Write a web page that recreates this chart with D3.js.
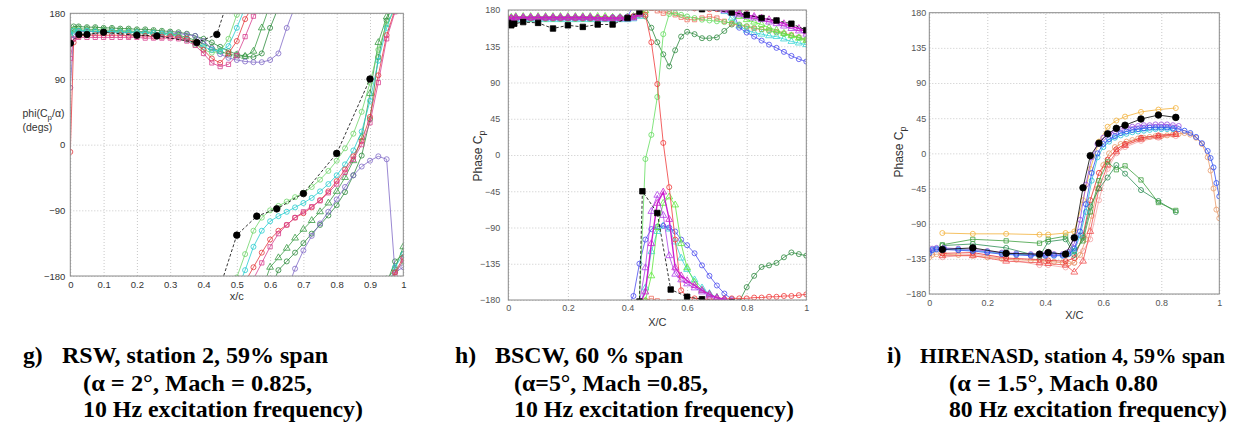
<!DOCTYPE html>
<html>
<head>
<meta charset="utf-8">
<script src="https://cdn.jsdelivr.net/npm/d3@7"></script>
<style>
  body { margin: 0; background: #fff; }
  svg { display: block; }
  .caption { font-family: "Times New Roman", "Liberation Serif", Times, serif; font-weight: bold; font-size: 23.7px; fill: #000; }
  .axis-title { font-family: "Liberation Sans", Arial, sans-serif; fill: #333; }
</style>
</head>
<body>
<svg id="chart" width="1251" height="423"></svg>
<script>
// ---- g) RSW, station 2 ----
const G_X = [0, 0.01, 0.025, 0.05, 0.075, 0.1, 0.125, 0.15, 0.175, 0.2, 0.225, 0.25, 0.275, 0.3, 0.325, 0.35, 0.375, 0.4, 0.425, 0.45, 0.475, 0.5, 0.525, 0.55, 0.575, 0.6, 0.625, 0.65, 0.675, 0.7, 0.725, 0.75, 0.775, 0.8, 0.825, 0.85, 0.875, 0.9, 0.925, 0.95, 0.975, 1.0];
const G_DKGREEN = [155, 162, 162, 161, 161, 160, 160, 159, 159, 158, 158, 157, 156, 155, 154, 152, 149, 145, 140, 134, 128, 124, 121, 120, 125, 160, -172, -160, -148, -135, -122, -110, -97, -83, -65, -42, -15, 35, 120, 170, -160, -150];
const G_GREEN_TRI = [150, 158, 159, 158, 158, 157, 157, 156, 156, 155, 155, 154, 153, 152, 150, 147, 143, 138, 133, 128, 124, 122, 121, 128, 160, -168, -155, -142, -128, -116, -104, -92, -80, -64, -45, -22, 10, 70, 140, 175, -170, -140];
const G_LTGREEN = [152, 157, 157, 156, 156, 156, 155, 155, 155, 154, 154, 153, 153, 152, 149, 144, 137, 130, 126, 128, 145, 178, -150, -118, -100, -90, -84, -78, -72, -66, -58, -48, -36, -22, -5, 15, 45, 85, 130, 165, -175, -160];
const G_CYAN = [150, 156, 156, 156, 155, 155, 155, 154, 154, 154, 153, 153, 152, 151, 148, 144, 139, 134, 130, 128, 135, 160, -172, -140, -118, -105, -98, -92, -86, -80, -73, -64, -54, -42, -27, -8, 18, 60, 115, 160, -168, -150];
const G_RED = [-10, 140, 149, 150, 150, 150, 150, 150, 149, 149, 149, 148, 148, 148, 147, 145, 140, 130, 118, 112, 125, 142, 172, -168, -148, -130, -118, -110, -100, -94, -86, -76, -64, -50, -34, -16, 5, 38, 95, 150, -175, -155];
const G_MAGENTA = [118, 145, 147, 147, 147, 147, 147, 147, 147, 147, 146, 146, 146, 146, 145, 142, 136, 125, 112, 107, 110, 122, 148, 176, -162, -140, -122, -110, -100, -92, -85, -77, -66, -54, -38, -20, 0, 30, 85, 145, -178, -158];
const G_PURPLE = [78, 150, 155, 155, 155, 155, 155, 154, 154, 154, 154, 153, 153, 153, 152, 151, 149, 142, 132, 124, 119, 116, 114, 113, 113, 116, 125, 160, -170, -145, -125, -108, -92, -75, -58, -42, -30, -22, -16, -20, -175, -168];
const G_EXP_X = [0, 0.026, 0.05, 0.1, 0.2, 0.26, 0.38, 0.44, 0.5, 0.56, 0.62, 0.7, 0.8, 0.9];
const G_EXP = [139, 151, 151, 154, 150, 149, 140, 151, -124, -98, -88, -67, -12, 90];

// ---- h) BSCW ----
const H_X = [0, 0.01, 0.025, 0.05, 0.075, 0.1, 0.125, 0.15, 0.175, 0.2, 0.225, 0.25, 0.275, 0.3, 0.325, 0.35, 0.375, 0.4, 0.42, 0.44, 0.46, 0.48, 0.5, 0.52, 0.54, 0.56, 0.58, 0.6, 0.625, 0.65, 0.675, 0.7, 0.725, 0.75, 0.775, 0.8, 0.825, 0.85, 0.875, 0.9, 0.925, 0.95, 0.975, 1.0];
const H_MAGENTA = [168, 170, 171, 171, 171, 171, 171, 171, 171, 171, 171, 171, 171, 170, 170, 170, 170, 170, 171, 174, -170, -110, -60, -46, -80, -140, -150, -156, -162, -168, -173, -177, -179, 178, 176, 174, 172, 170, 168, 166, 163, 160, 157, 153];
const H_VIOLET = [166, 169, 170, 170, 170, 170, 170, 170, 170, 170, 170, 170, 170, 170, 169, 169, 169, 169, 170, 176, -140, -70, -50, -75, -125, -148, -155, -160, -165, -170, -175, -178, 179, 176, 174, 172, 170, 168, 165, 163, 160, 157, 154, 150];
const H_BLUE = [167, 169, 170, 170, 170, 170, 170, 170, 170, 170, 170, 170, 170, 170, 170, 171, 171, 172, -175, -135, -105, -92, -89, -88, -90, -95, -105, -112, -122, -137, -150, -162, -172, -179, 158, 152, 147, 142, 137, 133, 128, 123, 119, 116];
const H_LTGREEN = [168, 169, 169, 169, 169, 169, 169, 169, 169, 169, 169, 169, 169, 169, 169, 169, 169, 170, 172, 178, -5, 25, 72, 150, 175, 176, 174, 172, 170, 168, 167, 166, 165, 164, 162, 160, 158, 156, 154, 152, 150, 148, 146, 144];
const H_RED = [169, 170, 170, 170, 170, 170, 170, 170, 170, 170, 170, 170, 170, 170, 170, 170, 170, 171, 172, 176, 174, 140, 88, 15, -40, -105, -168, -176, -178, -179, -179, -179, -179, -178, -178, -178, -177, -177, -176, -176, -175, -175, -174, -173];
const H_SALMON = [168, 169, 169, 169, 169, 169, 169, 169, 169, 169, 169, 169, 169, 169, 169, 169, 170, 170, 172, 176, 179, -178, 179, 176, 178, 174, 171, 168, 168, 170, 172, 170, 166, 163, 161, 159, 157, 156, 155, 153, 151, 149, 146, 143];
const H_DKGREEN = [166, 168, 169, 169, 169, 169, 169, 169, 169, 169, 169, 169, 169, 169, 169, 169, 169, 170, 171, 174, 172, 158, 140, 125, 110, 130, 147, 153, 150, 145, 145, 146, 154, 162, 178, -164, -150, -139, -137, -134, -127, -121, -123, -125];
const H_CYAN = [167, 168, 168, 168, 168, 168, 168, 168, 168, 168, 168, 168, 168, 168, 168, 168, 168, 168, 169, 172, -165, -120, -95, -88, -92, -108, -128, -142, -155, -165, -172, -177, 178, 170, 160, 155, 152, 150, 148, 147, 144, 141, 139, 137];
const H_LIME = [169, 171, 172, 172, 172, 172, 172, 172, 172, 172, 172, 172, 172, 172, 172, 171, 171, 171, 172, 175, 179, -150, -90, -60, -52, -62, -110, -140, -158, -168, -173, -177, -179, 177, 172, 168, 165, 162, 158, 155, 151, 148, 145, 142];
const H_EXP_X = [0, 0.01, 0.02, 0.05, 0.1, 0.15, 0.2, 0.25, 0.3, 0.35, 0.4, 0.44, 0.45, 0.5, 0.545, 0.6, 0.65, 0.75, 0.8, 0.85, 0.9, 0.95, 1.0];
const H_EXP = [164, 161, 163, 165, 164, 157, 161, 159, 162, 162, 170, 178, -45, -72, -167, -176, -179, 177, 174, 170, 167, 163, 155];

// ---- i) HIRENASD, station 4 ----
const I_TAP_X = [0.045, 0.15, 0.265, 0.38, 0.41, 0.47, 0.5, 0.53, 0.555, 0.585, 0.615, 0.645, 0.675, 0.73, 0.79, 0.85];
const I_EXP = [-123, -121, -128, -129, -127, -129, -108, -44, -3, 13, 25, 32, 36, 44, 49, 46];
const I_ORANGE = [-102, -103, -103, -104, -104, -102, -100, -60, -20, 15, 34, 42, 47, 53, 56, 58];
const I_GREEN_SQ = [-117, -110, -112, -115, -110, -106, -125, -112, -75, -35, -11, -21, -16, -34, -63, -73];
const I_GREEN_CIRC = [-118, -116, -121, -132, -113, -110, -130, -108, -68, -45, -31, -15, -26, -47, -61, -75];
const I_RED = [-128, -127, -134, -136, -137, -138, -134, -105, -60, -25, -8, 5, 12, 20, 23, 25];
const I_RED_TRI = [-131, -131, -138, -140, -141, -143, -152, -138, -100, -45, -15, 2, 10, 18, 21, 24];
const I_PINK = [-133, -129, -135, -143, -143, -146, -140, -125, -110, -60, -20, 0, 8, 16, 20, 22];
const I_X = [0, 0.01, 0.025, 0.05, 0.1, 0.15, 0.2, 0.25, 0.3, 0.35, 0.4, 0.43, 0.46, 0.48, 0.5, 0.52, 0.54, 0.56, 0.58, 0.6, 0.62, 0.64, 0.66, 0.68, 0.7, 0.72, 0.74, 0.76, 0.78, 0.8, 0.82, 0.84, 0.86, 0.88, 0.9, 0.92, 0.94, 0.96, 0.97, 0.98, 0.99, 1.0];
const I_BLUE = [-128, -124, -123, -123, -124, -125, -127, -129, -130, -131, -131, -131, -131, -129, -122, -100, -65, -25, 0, 12, 18, 22, 26, 28, 30, 31, 32, 33, 33, 33, 33, 32, 31, 29, 26, 21, 13, 3, -6, -18, -38, -55];
const I_PURPLE = [-125, -122, -121, -121, -122, -123, -125, -127, -128, -129, -129, -129, -129, -126, -115, -85, -40, -5, 12, 20, 25, 28, 31, 33, 34, 35, 36, 36, 37, 37, 37, 36, 35, null, null, null, null, null, null, null, null, null];
const I_CYAN = [-126, -123, -122, -122, -123, -124, -126, -128, -129, -130, -130, -130, -130, -128, -125, -105, -75, -35, -5, 8, 15, 20, 23, 25, 27, 28, 29, 30, 31, 31, 31, 31, null, null, null, null, null, null, null, null, null, null];
const I_TAN = [-133, -130, -129, -129, -130, -131, -133, -135, -136, -137, -138, -139, -140, -141, -140, -130, -110, -80, -45, -15, 0, 8, 12, 15, 17, 19, 20, 21, 22, 22, 23, 24, 25, 26, 24, 20, 12, -5, -22, -45, -72, -83];

const PHASE_TICKS_90 = [-180, -90, 0, 90, 180];
const PHASE_TICKS_45 = [-180, -135, -90, -45, 0, 45, 90, 135, 180];
const XC_TICKS_01 = [0, 0.1, 0.2, 0.3, 0.4, 0.5, 0.6, 0.7, 0.8, 0.9, 1];
const XC_TICKS_02 = [0, 0.2, 0.4, 0.6, 0.8, 1];

const svg = d3.select('#chart');

// phase data is stored wrapped in [-180, 180]; unwrap so a line that
// leaves the top comes back in at the bottom, as in the original plots
function unwrap(values) {
  const out = [];
  let prev = null;
  let off = 0;
  for (const v of values) {
    if (v == null) { out.push(null); continue; }
    let u = v + off;
    if (prev != null) {
      while (u - prev > 180) { off -= 360; u -= 360; }
      while (u - prev < -180) { off += 360; u += 360; }
    }
    out.push(u);
    prev = u;
  }
  return out;
}

const SYMBOLS = {
  circle: [d3.symbolCircle, 20],
  triangle: [d3.symbolTriangle, 20],
  square: [d3.symbolSquare, 18],
  dot: [d3.symbolCircle, 34],
  block: [d3.symbolSquare, 30]
};

const fmtX = (d) => (d === 0 || d === 1 ? String(d) : d3.format('.1f')(d));

function drawPanel(p) {
  const x = d3.scaleLinear([0, 1], [p.left, p.right]);
  const y = d3.scaleLinear([-180, 180], [p.bottom, p.top]);
  const w = p.right - p.left;
  const h = p.bottom - p.top;
  const g = svg.append('g');

  // dotted grid
  g.append('g')
    .attr('transform', `translate(0,${p.bottom})`)
    .call(d3.axisBottom(x).tickValues(p.xTicks).tickSize(-h).tickFormat(''))
    .call((a) => a.select('.domain').remove())
    .selectAll('line').attr('stroke', '#c8c8c8').attr('stroke-dasharray', '1,2');
  g.append('g')
    .attr('transform', `translate(${p.left},0)`)
    .call(d3.axisLeft(y).tickValues(p.yTicks).tickSize(-w).tickFormat(''))
    .call((a) => a.select('.domain').remove())
    .selectAll('line').attr('stroke', '#c8c8c8').attr('stroke-dasharray', '1,2');

  // tick labels
  const xAxis = g.append('g')
    .attr('transform', `translate(0,${p.bottom})`)
    .call(d3.axisBottom(x).tickValues(p.xTicks).tickSize(0).tickPadding(p.xPad).tickFormat(fmtX));
  const yAxis = g.append('g')
    .attr('transform', `translate(${p.left},0)`)
    .call(d3.axisLeft(y).tickValues(p.yTicks).tickSize(0).tickPadding(p.yPad));
  [xAxis, yAxis].forEach((a) => {
    a.select('.domain').remove();
    a.selectAll('text')
      .attr('font-family', '"Liberation Sans", Arial, sans-serif')
      .attr('font-size', p.tickSize)
      .attr('fill', p.tickColor);
  });

  const clipId = `clip-${p.id}`;
  svg.append('clipPath').attr('id', clipId)
    .append('rect').attr('x', p.left).attr('y', p.top).attr('width', w).attr('height', h);
  const plot = g.append('g').attr('clip-path', `url(#${clipId})`);

  p.series.forEach((s) => {
    const u = unwrap(s.v);
    const pts = s.x.map((xv, i) => [xv, u[i]]).filter((d) => d[1] != null);
    const [type, size] = SYMBOLS[s.marker];
    const sym = d3.symbol(type, size);
    const filled = s.marker === 'dot' || s.marker === 'block';
    [-720, -360, 0, 360].forEach((shift) => {
      if (!pts.some((d) => Math.abs(d[1] + shift) <= 200)) return;
      const line = d3.line().x((d) => x(d[0])).y((d) => y(d[1] + shift));
      plot.append('path')
        .datum(pts)
        .attr('d', line)
        .attr('fill', 'none')
        .attr('stroke', s.color)
        .attr('stroke-width', s.width || 0.8)
        .attr('stroke-dasharray', s.dash || null);
      plot.selectAll(null)
        .data(pts.filter((d) => Math.abs(d[1] + shift) <= 190))
        .join('path')
        .attr('transform', (d) => `translate(${x(d[0])},${y(d[1] + shift)})`)
        .attr('d', sym)
        .attr('fill', filled ? s.color : 'none')
        .attr('stroke', s.color)
        .attr('stroke-width', 0.8);
    });
  });

  // frame
  g.append('rect')
    .attr('x', p.left).attr('y', p.top).attr('width', w).attr('height', h)
    .attr('fill', 'none').attr('stroke', '#8a8a8a').attr('stroke-width', 1);

  return { x, y };
}

// g) RSW
drawPanel({
  id: 'g', left: 70.3, right: 403.3, top: 13.3, bottom: 276,
  xTicks: XC_TICKS_01, yTicks: PHASE_TICKS_90, xPad: 5, yPad: 5, tickSize: 9.5, tickColor: '#333',
  series: [
    { x: G_X, v: G_DKGREEN, color: '#2c8a3c', marker: 'circle' },
    { x: G_X, v: G_GREEN_TRI, color: '#3a9c45', marker: 'triangle' },
    { x: G_X, v: G_PURPLE, color: '#8069c6', marker: 'circle' },
    { x: G_X, v: G_LTGREEN, color: '#6fd66a', marker: 'circle' },
    { x: G_X, v: G_CYAN, color: '#27cdcf', marker: 'circle' },
    { x: G_X, v: G_RED, color: '#e4373c', marker: 'circle' },
    { x: G_X, v: G_MAGENTA, color: '#d8408f', marker: 'square' },
    { x: G_EXP_X, v: G_EXP, color: '#000', marker: 'dot', dash: '3,2' }
  ]
});

// h) BSCW
drawPanel({
  id: 'h', left: 508.3, right: 806.3, top: 10, bottom: 300,
  xTicks: XC_TICKS_02, yTicks: PHASE_TICKS_45, xPad: 5, yPad: 8, tickSize: 9, tickColor: '#555',
  series: [
    { x: H_X, v: H_DKGREEN, color: '#2f8a40', marker: 'circle' },
    { x: H_X, v: H_SALMON, color: '#ef6f5f', marker: 'square' },
    { x: H_X, v: H_CYAN, color: '#3ad6d6', marker: 'triangle' },
    { x: H_X, v: H_BLUE, color: '#4b4bef', marker: 'circle' },
    { x: H_X, v: H_LTGREEN, color: '#63dd5e', marker: 'circle' },
    { x: H_X, v: H_LIME, color: '#5ee83c', marker: 'triangle' },
    { x: H_X, v: H_RED, color: '#f03a3a', marker: 'circle' },
    { x: H_X, v: H_VIOLET, color: '#b040e8', marker: 'triangle' },
    { x: H_X, v: H_MAGENTA, color: '#cc1fcc', marker: 'triangle', width: 1.4 },
    { x: H_EXP_X, v: H_EXP, color: '#000', marker: 'block', dash: '3,2' }
  ]
});

// i) HIRENASD
drawPanel({
  id: 'i', left: 929.3, right: 1219.3, top: 12.7, bottom: 294,
  xTicks: XC_TICKS_02, yTicks: PHASE_TICKS_45, xPad: 6, yPad: 3, tickSize: 9, tickColor: '#555',
  series: [
    { x: I_TAP_X, v: I_PINK, color: '#f3a3a3', marker: 'circle' },
    { x: I_X, v: I_TAN, color: '#e89a6a', marker: 'circle' },
    { x: I_TAP_X, v: I_RED_TRI, color: '#f05050', marker: 'triangle' },
    { x: I_TAP_X, v: I_RED, color: '#e8302f', marker: 'circle' },
    { x: I_TAP_X, v: I_GREEN_CIRC, color: '#2e8f55', marker: 'circle' },
    { x: I_TAP_X, v: I_GREEN_SQ, color: '#3f9f3f', marker: 'square' },
    { x: I_TAP_X, v: I_ORANGE, color: '#f2b13a', marker: 'circle' },
    { x: I_X, v: I_CYAN, color: '#2ac3d6', marker: 'circle' },
    { x: I_X, v: I_PURPLE, color: '#9b4fe0', marker: 'circle' },
    { x: I_X, v: I_BLUE, color: '#2f4df0', marker: 'circle' },
    { x: I_TAP_X, v: I_EXP, color: '#000', marker: 'dot' }
  ]
});

// axis titles
svg.append('text').attr('class', 'axis-title').attr('x', 236.8).attr('y', 300)
  .attr('text-anchor', 'middle').attr('font-size', 11).text('x/c');
svg.append('text').attr('class', 'axis-title').attr('x', 657.3).attr('y', 326)
  .attr('text-anchor', 'middle').attr('font-size', 11).text('X/C');
svg.append('text').attr('class', 'axis-title').attr('x', 1074.3).attr('y', 319)
  .attr('text-anchor', 'middle').attr('font-size', 11).text('X/C');

const phiLabel = svg.append('text').attr('class', 'axis-title').attr('x', 22.5).attr('y', 116.7).attr('font-size', 10.5);
phiLabel.append('tspan').text('phi(C');
phiLabel.append('tspan').attr('dy', 3).attr('font-size', 8).text('p');
phiLabel.append('tspan').attr('dy', -3).text('/\u03b1)');
svg.append('text').attr('class', 'axis-title').attr('x', 22.5).attr('y', 130.7).attr('font-size', 10.5).text('(degs)');

function phaseLabel(cx, cy) {
  const t = svg.append('text').attr('class', 'axis-title')
    .attr('transform', `translate(${cx},${cy}) rotate(-90)`)
    .attr('text-anchor', 'middle').attr('font-size', 12);
  t.append('tspan').text('Phase C');
  t.append('tspan').attr('dy', 3.5).attr('font-size', 9).text('p');
}
phaseLabel(481.5, 156);
phaseLabel(902.5, 152);

const CAPTIONS = [
  { tag: 'g)', tagX: 23, x: 62, x2: 83, widths: [266, 229, 280], sizes: [23.7, 23.7, 23.7],
    lines: ['RSW, station 2, 59% span', '(\u03b1 = 2\u00b0, Mach = 0.825,', '10 Hz excitation frequency)'] },
  { tag: 'h)', tagX: 455, x: 495, x2: 514, widths: [188, 194, 280], sizes: [23.7, 23.7, 23.7],
    lines: ['BSCW, 60 % span', '(\u03b1=5\u00b0, Mach =0.85,', '10 Hz excitation frequency)'] },
  { tag: 'i)', tagX: 887, x: 920, x2: 949, widths: [305, 209, 278], sizes: [21.5, 23.7, 23.7],
    lines: ['HIRENASD, station 4, 59% span', '(\u03b1 = 1.5\u00b0, Mach 0.80', '80 Hz excitation frequency)'] }
];
const CAPTION_BASELINES = [363, 391, 417];
CAPTIONS.forEach((c) => {
  svg.append('text').attr('class', 'caption').attr('x', c.tagX).attr('y', CAPTION_BASELINES[0]).text(c.tag);
  c.lines.forEach((line, i) => {
    svg.append('text').attr('class', 'caption')
      .attr('x', i === 0 ? c.x : c.x2)
      .attr('y', CAPTION_BASELINES[i])
      .style('font-size', `${c.sizes[i]}px`)
      .attr('textLength', c.widths[i])
      .attr('lengthAdjust', 'spacingAndGlyphs')
      .text(line);
  });
});
</script>
</body>
</html>
